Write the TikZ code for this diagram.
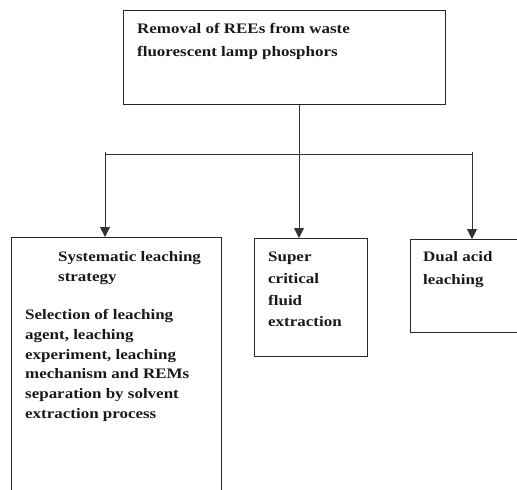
\documentclass[tikz,border=0pt]{standalone}
\usepackage{fontspec}
\setmainfont{Liberation Serif}[FakeStretch=1.17]
\usetikzlibrary{arrows.meta}
\tikzset{
  boxshape/.style={draw=black!85, line width=1pt, inner sep=0pt, anchor=north west},
  txt/.style={inner sep=0pt, anchor=base west, font=\fontsize{14.5}{17}\selectfont\bfseries, text=black!90},
  link/.style={draw=black!80, line width=1pt},
  arr/.style={link, -{Triangle[width=10pt,length=10pt]}}
}
\begin{document}
\begin{tikzpicture}[x=1pt,y=-1pt]
\useasboundingbox (0,0) rectangle (517,490);
% boxes
\node[boxshape, minimum width=322pt, minimum height=94pt] (top) at (123,10) {};
\node[boxshape, minimum width=210pt, minimum height=270pt] (left) at (11,237) {};
\node[boxshape, minimum width=113pt, minimum height=118pt] (mid) at (254,238) {};
\node[boxshape, minimum width=120pt, minimum height=93pt] (right) at (410,239) {};
% texts
\node[txt] (t1) at (137,33) {Removal of REEs from waste};
\node[txt] (t2) at (137,56) {fluorescent lamp phosphors};
\node[txt] (l1) at (58,261) {Systematic leaching};
\node[txt] (l2) at (58,281) {strategy};
\node[txt] (p1) at (25,319) {Selection of leaching};
\node[txt] (p2) at (25,339) {agent, leaching};
\node[txt] (p3) at (25,359) {experiment, leaching};
\node[txt] (p4) at (25,378) {mechanism and REMs};
\node[txt] (p5) at (25,398) {separation by solvent};
\node[txt] (p6) at (25,418) {extraction process};
\node[txt] (m1) at (268,261) {Super};
\node[txt] (m2) at (268,283) {critical};
\node[txt] (m3) at (268,305) {fluid};
\node[txt] (m4) at (268,326) {extraction};
\node[txt] (r1) at (423,261) {Dual acid};
\node[txt] (r2) at (423,284) {leaching};
% connectors
\coordinate (jl) at (105,154);
\coordinate (jm) at (299,154);
\coordinate (jr) at (472,154);
\draw[link] (jl) -- (jr);
\draw[arr] (top.south -| jm) -- (jm |- mid.north);
\draw[arr] ([yshift=2pt]jl) -- (jl |- left.north);
\draw[arr] ([yshift=2pt]jr) -- (jr |- right.north);
\end{tikzpicture}
\end{document}
